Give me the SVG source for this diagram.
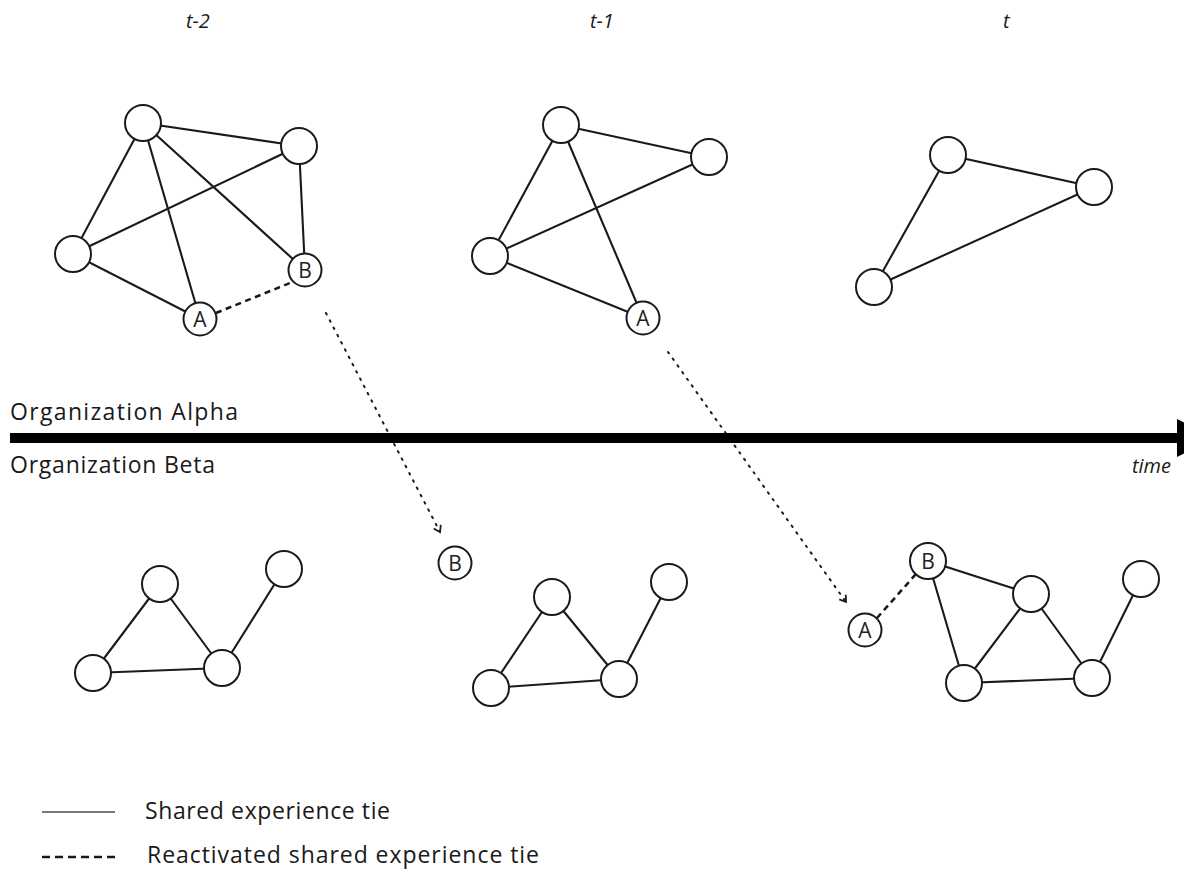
<svg xmlns="http://www.w3.org/2000/svg" width="1184" height="874" viewBox="0 0 1184 874">
  <style>
    .tie { stroke: #1a1a1a; stroke-width: 2.1; fill: none; stroke-linecap: round; }
    .react { stroke: #1a1a1a; stroke-width: 2.6; fill: none; stroke-dasharray: 6 4.5; }
    .move { stroke: #1a1a1a; stroke-width: 2; fill: none; stroke-dasharray: 1.6 6.6; stroke-linecap: round; }
    .node circle { fill: #fff; stroke: #1a1a1a; stroke-width: 2; }
    .lbl { font-family: "Open Sans", "Noto Sans", "Liberation Sans", sans-serif; font-size: 21px; fill: #222; text-anchor: middle; }
    .txt { font-family: "Open Sans", "Noto Sans", "Liberation Sans", sans-serif; font-size: 23px; fill: #1a1a1a; }
    .ital { font-family: "Open Sans", "Noto Sans", "Liberation Sans", sans-serif; font-size: 20px; font-style: italic; fill: #1a1a1a; }
  </style>
  <defs>
    <marker id="chev" markerUnits="userSpaceOnUse" markerWidth="12" markerHeight="12" refX="7" refY="5" orient="auto">
      <path d="M1,1 L7,5 L1,9" fill="none" stroke="#1a1a1a" stroke-width="1.8"/>
    </marker>
  </defs>
  <rect width="1184" height="874" fill="#fff"/>

  <!-- period labels -->
  <text class="ital" x="186" y="28">t-2</text>
  <text class="ital" x="590" y="28">t-1</text>
  <text class="ital" x="1003" y="28">t</text>

  <!-- ties -->
  <g id="connectors">
    <!-- Alpha, t-2 -->
    <line class="tie" x1="143" y1="123" x2="299" y2="146"/>
    <line class="tie" x1="143" y1="123" x2="73" y2="254"/>
    <line class="tie" x1="143" y1="123" x2="200" y2="319"/>
    <line class="tie" x1="143" y1="123" x2="305" y2="270"/>
    <line class="tie" x1="299" y1="146" x2="73" y2="254"/>
    <line class="tie" x1="299" y1="146" x2="305" y2="270"/>
    <line class="tie" x1="73" y1="254" x2="200" y2="319"/>
    <line class="react" x1="216" y1="313" x2="290" y2="283"/>
    <!-- Alpha, t-1 -->
    <line class="tie" x1="561" y1="125" x2="709" y2="157"/>
    <line class="tie" x1="561" y1="125" x2="490" y2="256"/>
    <line class="tie" x1="561" y1="125" x2="643" y2="318"/>
    <line class="tie" x1="490" y1="256" x2="709" y2="157"/>
    <line class="tie" x1="490" y1="256" x2="643" y2="318"/>
    <!-- Alpha, t -->
    <line class="tie" x1="948" y1="155" x2="1094" y2="187"/>
    <line class="tie" x1="948" y1="155" x2="874" y2="287"/>
    <line class="tie" x1="874" y1="287" x2="1094" y2="187"/>
    <!-- Beta, t-2 -->
    <line class="tie" x1="160" y1="584" x2="93" y2="673"/>
    <line class="tie" x1="160" y1="584" x2="222" y2="668"/>
    <line class="tie" x1="93" y1="673" x2="222" y2="668"/>
    <line class="tie" x1="222" y1="668" x2="284" y2="569"/>
    <!-- Beta, t-1 -->
    <line class="tie" x1="552" y1="597" x2="491" y2="688"/>
    <line class="tie" x1="552" y1="597" x2="619" y2="679"/>
    <line class="tie" x1="491" y1="688" x2="619" y2="679"/>
    <line class="tie" x1="619" y1="679" x2="669" y2="582"/>
    <!-- Beta, t -->
    <line class="tie" x1="928" y1="561" x2="1031" y2="594"/>
    <line class="tie" x1="928" y1="561" x2="964" y2="683"/>
    <line class="tie" x1="1031" y1="594" x2="964" y2="683"/>
    <line class="tie" x1="1031" y1="594" x2="1092" y2="678"/>
    <line class="tie" x1="964" y1="683" x2="1092" y2="678"/>
    <line class="tie" x1="1092" y1="678" x2="1141" y2="579"/>
    <line class="react" x1="877" y1="618" x2="916" y2="574" stroke-width="2.2" stroke-dasharray="7 5"/>
    <!-- moves between organizations -->
    <line class="move" x1="326" y1="313" x2="440" y2="532" marker-end="url(#chev)"/>
    <line class="move" x1="668" y1="352" x2="846" y2="602" marker-end="url(#chev)"/>
  </g>

  <!-- time axis -->
  <g id="axis">
    <rect x="10" y="433" width="1170" height="10" fill="#000"/>
    <polygon points="1177,419 1177,457 1215,438" fill="#000"/>
    <text class="txt" x="10" y="420" textLength="228">Organization Alpha</text>
    <text class="txt" x="10" y="473" textLength="205">Organization Beta</text>
    <text class="ital" x="1171" y="473" font-size="25" text-anchor="end">time</text>
  </g>

  <!-- Organization Alpha, t-2 -->
  <g id="alpha-t2-n1" class="node"><circle cx="143" cy="123" r="18"/></g>
  <g id="alpha-t2-n2" class="node"><circle cx="299" cy="146" r="18"/></g>
  <g id="alpha-t2-n3" class="node"><circle cx="73" cy="254" r="18"/></g>
  <g id="alpha-t2-A" class="node"><circle cx="200" cy="319" r="16.5"/><text class="lbl" x="200" y="327">A</text></g>
  <g id="alpha-t2-B" class="node"><circle cx="305" cy="270" r="16.5"/><text class="lbl" x="305" y="278">B</text></g>

  <!-- Organization Alpha, t-1 -->
  <g id="alpha-t1-n1" class="node"><circle cx="561" cy="125" r="18"/></g>
  <g id="alpha-t1-n2" class="node"><circle cx="709" cy="157" r="18"/></g>
  <g id="alpha-t1-n3" class="node"><circle cx="490" cy="256" r="18"/></g>
  <g id="alpha-t1-A" class="node"><circle cx="643" cy="318" r="16.5"/><text class="lbl" x="643" y="326">A</text></g>

  <!-- Organization Alpha, t -->
  <g id="alpha-t-n1" class="node"><circle cx="948" cy="155" r="18"/></g>
  <g id="alpha-t-n2" class="node"><circle cx="1094" cy="187" r="18"/></g>
  <g id="alpha-t-n3" class="node"><circle cx="874" cy="287" r="18"/></g>

  <!-- Organization Beta, t-2 -->
  <g id="beta-t2-n1" class="node"><circle cx="160" cy="584" r="18"/></g>
  <g id="beta-t2-n2" class="node"><circle cx="284" cy="569" r="18"/></g>
  <g id="beta-t2-n3" class="node"><circle cx="93" cy="673" r="18"/></g>
  <g id="beta-t2-n4" class="node"><circle cx="222" cy="668" r="18"/></g>
  <g id="beta-t2-B" class="node"><circle cx="455" cy="563" r="16.5"/><text class="lbl" x="455" y="571">B</text></g>

  <!-- Organization Beta, t-1 -->
  <g id="beta-t1-n1" class="node"><circle cx="552" cy="597" r="18"/></g>
  <g id="beta-t1-n2" class="node"><circle cx="669" cy="582" r="18"/></g>
  <g id="beta-t1-n3" class="node"><circle cx="491" cy="688" r="18"/></g>
  <g id="beta-t1-n4" class="node"><circle cx="619" cy="679" r="18"/></g>

  <!-- Organization Beta, t -->
  <g id="beta-t-B" class="node"><circle cx="928" cy="561" r="18"/><text class="lbl" x="928" y="569">B</text></g>
  <g id="beta-t-n1" class="node"><circle cx="1031" cy="594" r="18"/></g>
  <g id="beta-t-n2" class="node"><circle cx="1141" cy="579" r="18"/></g>
  <g id="beta-t-n3" class="node"><circle cx="964" cy="683" r="18"/></g>
  <g id="beta-t-n4" class="node"><circle cx="1092" cy="678" r="18"/></g>
  <g id="beta-t-A" class="node"><circle cx="865" cy="630" r="16.5"/><text class="lbl" x="865" y="638">A</text></g>

  <!-- legend -->
  <g id="legend">
    <line x1="42" y1="812" x2="115" y2="812" stroke="#777" stroke-width="2"/>
    <text class="txt" x="145" y="819" textLength="245">Shared experience tie</text>
    <line x1="42" y1="857" x2="115" y2="857" stroke="#1a1a1a" stroke-width="2.6" stroke-dasharray="8 5"/>
    <text class="txt" x="147" y="863" textLength="392">Reactivated shared experience tie</text>
  </g>
</svg>
